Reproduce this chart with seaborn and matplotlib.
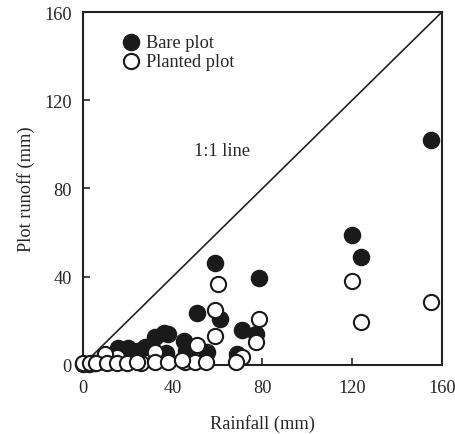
import pandas as pd
import matplotlib.pyplot as plt
import seaborn as sns

# valores (mm)
bare_rain = [155, 120, 124, 59, 78.5, 51, 61, 71, 77, 38, 36, 32, 45, 46, 55.5, 68.5,
             15.5, 20, 24, 27.5, 37, 5, 10, 0, 2.5, 12]
bare_runoff = [102, 59, 49, 46, 39.5, 23.6, 21, 16, 14, 14, 14.5, 12.5, 11, 6.5, 6, 5,
               7.5, 7.5, 6.5, 8, 5.5, 1, 1.5, 0.5, 0.5, 2]

planted_rain = [155, 120, 124, 60, 59, 78.5, 59, 77, 51, 71, 32, 15, 10,
                0, 3, 6, 10.5, 15, 19.5, 26, 32, 38, 45.5, 50, 55, 68, 44, 24]
planted_runoff = [28.5, 38, 19.5, 36.5, 25, 21, 13, 10.5, 8.8, 3.5, 5.7, 3.5, 5,
                  1, 1, 1, 1, 1, 1, 1, 1.2, 1.2, 1.2, 1.2, 1.2, 1.5, 2, 1.2]

bare = pd.DataFrame({"rain": bare_rain, "runoff": bare_runoff})
planted = pd.DataFrame({"rain": planted_rain, "runoff": planted_runoff})

sns.set_style("ticks")
plt.rcParams["font.family"] = ["Liberation Serif", "DejaVu Serif"]
fs = 13.2

fig = plt.figure(figsize=(4.56, 4.35), dpi=100)
ax = fig.add_axes([0.182, 0.159, 0.787, 0.811])

ax.plot([0, 160], [0, 160], color="#222222", lw=1.2, zorder=1)

sns.scatterplot(data=bare, x="rain", y="runoff", ax=ax, s=135, color="#1a1a1a",
                edgecolor="#1a1a1a", linewidth=1.0, clip_on=False, zorder=2,
                label="Bare plot")
sns.scatterplot(data=planted, x="rain", y="runoff", ax=ax, s=120, facecolor="white",
                edgecolor="#1a1a1a", linewidth=1.5, clip_on=False, zorder=3,
                label="Planted plot")

ax.text(62, 97, "1:1 line", fontsize=fs, ha="center", va="center")

ax.set_xlim(0, 160)
ax.set_ylim(0, 160)
ax.set_xticks([0, 40, 80, 120, 160])
ax.set_yticks([0, 40, 80, 120, 160])
ax.tick_params(direction="in", length=5, width=1.2, labelsize=fs)
ax.tick_params(axis="x", pad=10)
ax.tick_params(axis="y", pad=8)
for sp in ax.spines.values():
    sp.set_linewidth(1.5)
    sp.set_color("#222222")

ax.set_xlabel("Rainfall (mm)", fontsize=fs, labelpad=13)
ax.set_ylabel("Plot runoff (mm)", fontsize=fs, labelpad=7)

ax.legend(loc="upper left", bbox_to_anchor=(0.047, 0.975), frameon=False, fontsize=fs,
          handletextpad=-0.2, labelspacing=0.1, borderaxespad=0.3)

fig.savefig("out.png", dpi=100)
